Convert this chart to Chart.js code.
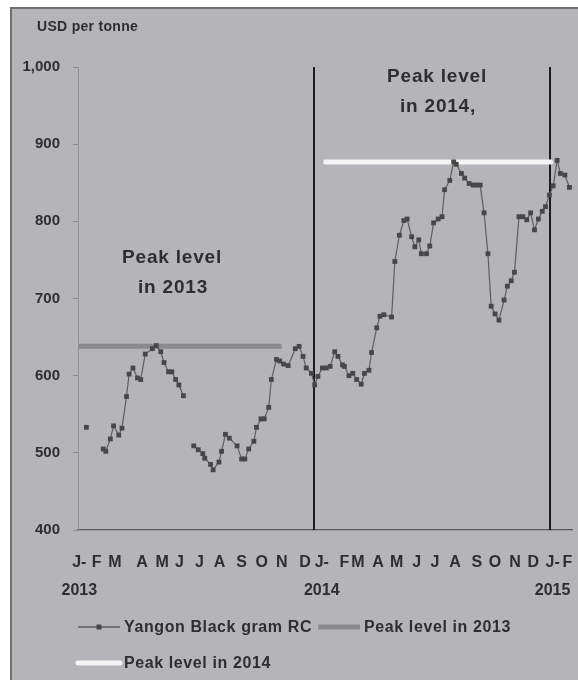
<!DOCTYPE html>
<html>
<head>
<meta charset="utf-8">
<script src="https://cdn.jsdelivr.net/npm/chart.js@4"></script>
<style>
  html, body { margin: 0; padding: 0; background: #ffffff; width: 578px; height: 680px; overflow: hidden; }
  #frame { position: absolute; left: 10px; top: 7px; width: 568px; height: 673px; background: #b5b5b9; border-top: 2px solid #707070; border-left: 2px solid #707070; box-sizing: border-box; }
  #c { position: absolute; left: 0; top: 0; }
</style>
</head>
<body>
<div id="frame"></div>
<canvas id="c" width="578" height="680"></canvas>
<script>
// ---- Data ----
const priceDates = [
  '2013-01-14','2013-02-09','2013-02-13','2013-02-20','2013-02-25','2013-03-05','2013-03-10','2013-03-17','2013-03-21','2013-03-27',
  '2013-04-03','2013-04-08','2013-04-15','2013-04-26','2013-05-02','2013-05-09','2013-05-14','2013-05-21','2013-05-26','2013-06-01',
  '2013-06-06','2013-06-13','2013-06-29','2013-07-06','2013-07-13','2013-07-16','2013-07-25','2013-07-29','2013-08-07','2013-08-11',
  '2013-08-17','2013-08-23','2013-09-04','2013-09-11','2013-09-16','2013-09-22','2013-09-30','2013-10-04','2013-10-11','2013-10-16',
  '2013-10-23','2013-10-27','2013-11-04','2013-11-09','2013-11-15','2013-11-22','2013-12-03','2013-12-09','2013-12-15','2013-12-20',
  '2013-12-28','2014-01-02','2014-01-07','2014-01-14','2014-01-20','2014-01-26','2014-02-02','2014-02-07','2014-02-14','2014-02-17',
  '2014-02-24','2014-03-02','2014-03-08','2014-03-15','2014-03-20','2014-03-27','2014-03-31','2014-04-08','2014-04-13','2014-04-19',
  '2014-05-01','2014-05-06','2014-05-13','2014-05-20','2014-05-25','2014-06-01','2014-06-06','2014-06-12','2014-06-16','2014-06-24',
  '2014-06-29','2014-07-05','2014-07-12','2014-07-18','2014-07-22','2014-07-30','2014-08-05','2014-08-09','2014-08-17','2014-08-22',
  '2014-08-29','2014-09-04','2014-09-09','2014-09-15','2014-09-21','2014-09-27','2014-10-02','2014-10-08','2014-10-14','2014-10-22',
  '2014-10-27','2014-11-02','2014-11-07','2014-11-14','2014-11-20','2014-11-26','2014-12-02','2014-12-08','2014-12-14','2014-12-20',
  '2014-12-25','2014-12-31','2015-01-06','2015-01-12','2015-01-17','2015-01-24','2015-01-31'
];
const priceValues = [
  533,505,502,518,535,523,532,573,602,610,
  597,595,628,635,639,631,617,605,605,595,
  588,574,509,504,499,493,485,478,488,502,
  524,519,509,492,492,505,515,533,544,544,
  559,595,621,619,615,613,635,638,625,610,
  603,588,599,610,610,612,631,625,614,612,
  600,603,595,589,603,607,630,662,677,679,
  676,748,782,801,803,780,767,776,758,758,
  768,798,803,806,841,853,877,874,862,856,
  849,847,847,847,811,758,690,680,672,698,
  716,723,734,806,806,802,811,789,803,813,
  819,834,846,879,862,860,844
];
const peak2013Dates = ['2013-01-02', '2013-11-12'];
const peak2013Value = 638;
const peak2014Dates = ['2014-01-19', '2015-01-02'];
const peak2014Value = 877;
const yearMarkerDates = ['2014-01-01', '2015-01-01'];

const xStartDate = '2013-01-01';
const xEndDate = '2015-02-04';
const yMin = 400, yMax = 1000, yStep = 100;

const tickDates = [
  '2013-01-03','2013-01-30','2013-02-27','2013-04-10','2013-05-11','2013-06-07','2013-07-08','2013-08-08','2013-09-11','2013-10-12','2013-11-12','2013-12-18',
  '2014-01-13','2014-02-17','2014-03-10','2014-04-10','2014-05-09','2014-06-09','2014-07-07','2014-08-07','2014-09-10','2014-10-08','2014-11-08','2014-12-06',
  '2015-01-05','2015-01-28'
];
const monthLabels = ['J-','F','M','A','M','J','J','A','S','O','N','D','J-','F','M','A','M','J','J','A','S','O','N','D','J-','F'];
const yearLabels  = ['2013','','','','','','','','','','','','2014','','','','','','','','','','','','2015',''];

const seriesNames = ['Yangon Black gram RC', 'Peak level in 2013', 'Peak level in 2014'];
const yAxisTitle = 'USD per tonne';
const noteLines2013 = ['Peak level', 'in 2013'];
const noteLines2014 = ['Peak level', 'in 2014,'];

// ---- helpers ----
const DAY = 86400000;
function toDay(s) {
  const p = s.split('-').map(Number);
  return (Date.UTC(p[0], p[1] - 1, p[2]) - Date.UTC(2013, 0, 1)) / DAY;
}

const FONT = "'Liberation Sans', Arial, sans-serif";
const TXT = '#2e2e2e';
const C_SERIES_LINE = '#5e5e5e';
const C_SERIES_PT = '#474747';
const C_PEAK13 = '#8a8a8e';
const C_PEAK14 = '#f4f4f4';

const pricePts = priceDates.map((d, i) => ({ x: toDay(d), y: priceValues[i] }));
const peak13Pts = peak2013Dates.map(d => ({ x: toDay(d), y: peak2013Value }));
const peak14Pts = peak2014Dates.map(d => ({ x: toDay(d), y: peak2014Value }));

const datasets = [
  {
    label: seriesNames[0], data: pricePts,
    borderColor: C_SERIES_LINE, borderWidth: 1.2,
    pointStyle: 'rect', pointRadius: 3.4, pointBackgroundColor: C_SERIES_PT, pointBorderColor: C_SERIES_PT, pointBorderWidth: 0,
    tension: 0,
    segment: {
      borderColor: ctx => (ctx.p1.parsed.x - ctx.p0.parsed.x > 15 ? 'rgba(0,0,0,0)' : undefined)
    }
  },
  {
    label: seriesNames[1], data: peak13Pts,
    borderColor: C_PEAK13, borderWidth: 5, pointRadius: 0, borderCapStyle: 'butt'
  },
  {
    label: seriesNames[2], data: peak14Pts,
    borderColor: C_PEAK14, borderWidth: 5, pointRadius: 0, borderCapStyle: 'round'
  }
];
yearMarkerDates.forEach(d => {
  datasets.push({
    label: '', data: [{ x: toDay(d), y: yMin - 4 }, { x: toDay(d), y: yMax }],
    borderColor: '#1c1c1c', borderWidth: 2, pointRadius: 0
  });
});

const overlayPlugin = {
  id: 'overlay',
  afterDraw(chart) {
    const ctx = chart.ctx;
    ctx.save();
    ctx.fillStyle = TXT;
    // y-axis title
    ctx.font = 'bold 14px ' + FONT;
    ctx.letterSpacing = '0.3px';
    ctx.textAlign = 'left';
    ctx.textBaseline = 'middle';
    ctx.fillText(yAxisTitle, 37, 27);
    // notes
    ctx.font = 'bold 19px ' + FONT;
    ctx.letterSpacing = '0.8px';
    ctx.textAlign = 'center';
    ctx.fillText(noteLines2013[0], 172, 258);
    ctx.fillText(noteLines2013[1], 173, 288);
    ctx.fillText(noteLines2014[0], 437, 77);
    ctx.fillText(noteLines2014[1], 438, 107);
    // legend
    ctx.font = 'bold 16px ' + FONT;
    ctx.letterSpacing = '0.6px';
    ctx.textAlign = 'left';
    const sample = 42;
    function drawItem(x, y, idx) {
      ctx.beginPath();
      if (idx === 0) {
        ctx.strokeStyle = C_SERIES_LINE; ctx.lineWidth = 1.5; ctx.lineCap = 'butt';
      } else if (idx === 1) {
        ctx.strokeStyle = C_PEAK13; ctx.lineWidth = 5; ctx.lineCap = 'butt';
      } else {
        ctx.strokeStyle = C_PEAK14; ctx.lineWidth = 5; ctx.lineCap = 'round';
      }
      ctx.moveTo(x, y); ctx.lineTo(x + sample, y); ctx.stroke();
      if (idx === 0) {
        ctx.fillStyle = C_SERIES_PT;
        ctx.fillRect(x + sample / 2 - 2.5, y - 2.5, 5, 5);
      }
      ctx.fillStyle = TXT;
      ctx.fillText(seriesNames[idx], x + sample + 4, y + 1);
      return x + sample + 4 + ctx.measureText(seriesNames[idx]).width + 6;
    }
    let nx = drawItem(78, 627, 0);
    drawItem(nx, 627, 1);
    drawItem(78, 663, 2);
    ctx.restore();
  }
};

new Chart(document.getElementById('c'), {
  type: 'line',
  data: { datasets },
  options: {
    responsive: false,
    animation: false,
    devicePixelRatio: 1,
    layout: { padding: { left: 0, top: 67, right: 6, bottom: 70 } },
    plugins: { legend: { display: false }, tooltip: { enabled: false } },
    elements: { line: { fill: false } },
    scales: {
      x: {
        type: 'linear',
        min: toDay(xStartDate), max: toDay(xEndDate),
        afterFit(scale) { scale.height = 80; scale.paddingLeft = 0; scale.paddingRight = 0; },
        afterBuildTicks(scale) { scale.ticks = tickDates.map(d => ({ value: toDay(d) })); },
        grid: { display: false, drawTicks: false },
        border: { display: true, color: '#5a5a5a', width: 1.2 },
        ticks: {
          autoSkip: false, maxRotation: 0, minRotation: 0, padding: 19,
          color: TXT,
          font: { family: FONT, size: 16, weight: 'bold', lineHeight: 1.75 },
          callback(value, index) {
            return yearLabels[index] ? [monthLabels[index], yearLabels[index]] : monthLabels[index];
          }
        }
      },
      y: {
        min: yMin, max: yMax,
        afterFit(scale) { scale.width = 78; },
        grid: { drawOnChartArea: false, drawTicks: true, tickLength: 5, color: '#8c8c8c' },
        border: { display: true, color: '#949494', width: 1 },
        ticks: {
          stepSize: yStep, padding: 13, color: TXT,
          font: { family: FONT, size: 15, weight: 'bold' }
        }
      }
    }
  },
  plugins: [overlayPlugin]
});
</script>
</body>
</html>
